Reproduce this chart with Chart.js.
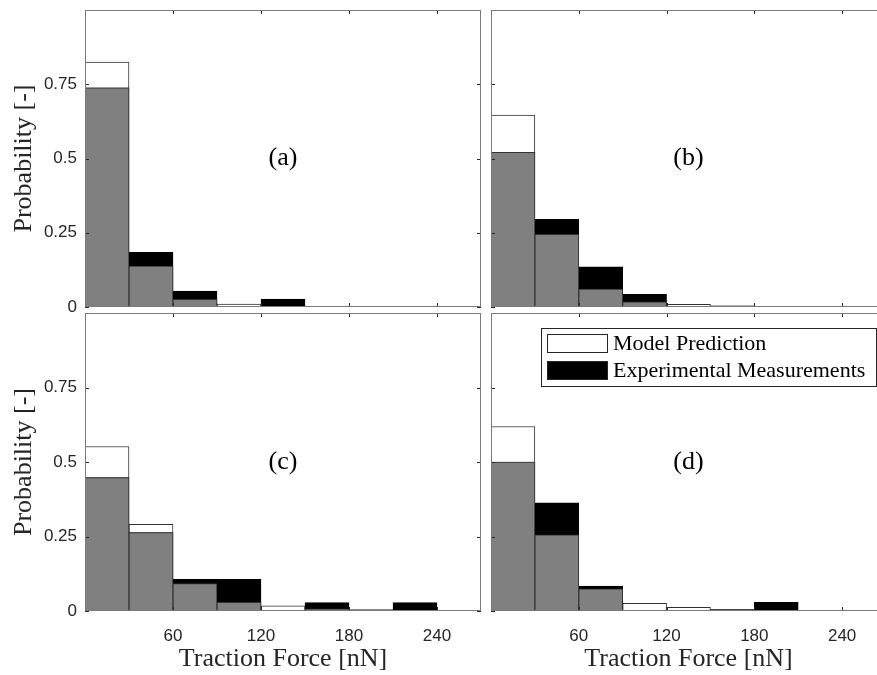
<!DOCTYPE html>
<html>
<head>
<meta charset="utf-8">
<script src="https://cdn.jsdelivr.net/npm/chart.js@4.4.1/dist/chart.umd.min.js"></script>
<style>
  html, body { margin: 0; padding: 0; background: #fff; overflow: hidden; width: 877px; height: 675px; }
  canvas { position: absolute; }
</style>
</head>
<body>
<canvas id="panelA" width="484" height="320" style="left:0;top:0"></canvas>
<canvas id="panelB" width="401" height="320" style="left:488px;top:0"></canvas>
<canvas id="panelC" width="484" height="371" style="left:0;top:304px"></canvas>
<canvas id="panelD" width="401" height="371" style="left:488px;top:304px"></canvas>
<script>
// bin centres of the 30 nN histogram bins
const binCenters = [15, 45, 75, 105, 135, 165, 195, 225, 255];
const forceTicks = [60, 120, 180, 240];
const probabilityTicks = [0, 0.25, 0.5, 0.75];

const modelA    = [0.825, 0.138, 0.026, 0.010, 0, 0, 0, 0, 0];
const measuredA = [0.738, 0.184, 0.054, 0, 0.027, 0, 0, 0, 0];

const modelB    = [0.646, 0.245, 0.060, 0.017, 0.009, 0.004, 0.001, 0, 0];
const measuredB = [0.521, 0.295, 0.135, 0.043, 0, 0.003, 0, 0.002, 0];

const modelC    = [0.552, 0.291, 0.092, 0.029, 0.017, 0.007, 0.005, 0, 0];
const measuredC = [0.448, 0.263, 0.106, 0.106, 0, 0.028, 0, 0.028, 0];

const modelD    = [0.619, 0.256, 0.074, 0.026, 0.012, 0.006, 0, 0.002, 0];
const measuredD = [0.500, 0.363, 0.084, 0, 0, 0.006, 0.029, 0, 0];

const SERIF = "'Liberation Serif', 'Times New Roman', serif";
const SANS = "'Liberation Sans', Arial, sans-serif";

// box around the axes, inward tick marks and the (a)..(d) tag
const panelFrame = {
  id: "panelFrame",
  afterDatasetsDraw(chart, args, opts) {
    const { ctx, chartArea: a, scales: { x, y } } = chart;
    ctx.save();
    ctx.lineWidth = 1;
    ctx.strokeStyle = "#262626";
    ctx.beginPath();
    forceTicks.forEach(v => {
      const px = Math.round(x.getPixelForValue(v)) + 0.5;
      ctx.moveTo(px, a.top); ctx.lineTo(px, a.top + 4);
      ctx.moveTo(px, a.bottom); ctx.lineTo(px, a.bottom - 4);
    });
    probabilityTicks.forEach(v => {
      const py = Math.round(y.getPixelForValue(v)) + 0.5;
      ctx.moveTo(a.left, py); ctx.lineTo(a.left + 4, py);
      ctx.moveTo(a.right, py); ctx.lineTo(a.right - 4, py);
    });
    ctx.stroke();
    ctx.strokeStyle = "#7a7a7a";
    ctx.strokeRect(a.left + 0.5, a.top + 0.5, a.right - a.left - 1, a.bottom - a.top - 1);
    if (opts.text) {
      ctx.font = "26px " + SERIF;
      ctx.fillStyle = "#000";
      ctx.textAlign = "center";
      ctx.textBaseline = "middle";
      ctx.fillText(opts.text, x.getPixelForValue(135), y.getPixelForValue(0.5));
    }
    ctx.restore();
  }
};

// legend with a framed box like the MATLAB one
const boxLegend = {
  id: "boxLegend",
  afterDraw(chart, args, opts) {
    if (!opts.show) return;
    const ctx = chart.ctx;
    const items = chart.data.datasets.filter(d => !d.overlap).sort((p, q) => q.order - p.order);
    const x0 = 53, y0 = 24, w = 335, h = 58;
    ctx.save();
    ctx.fillStyle = "#fff";
    ctx.fillRect(x0, y0, w, h);
    ctx.lineWidth = 1;
    ctx.strokeStyle = "#262626";
    ctx.strokeRect(x0 + 0.5, y0 + 0.5, w, h);
    items.forEach((d, i) => {
      const sy = y0 + 6 + i * 27;
      ctx.fillStyle = d.backgroundColor;
      ctx.fillRect(x0 + 6, sy, 61, 19);
      ctx.strokeStyle = "#262626";
      ctx.strokeRect(x0 + 6.5, sy + 0.5, 60, 18);
      ctx.fillStyle = "#000";
      ctx.font = "22px " + SERIF;
      ctx.textAlign = "left";
      ctx.textBaseline = "middle";
      ctx.fillText(d.label, x0 + 72, sy + 10.5);
    });
    ctx.restore();
  }
};

function toPoints(values) {
  return binCenters.map((x, i) => ({ x: x, y: values[i] }));
}

function renderPanel(canvasId, model, measured, tag, cfg) {
  const overlap = model.map((v, i) => Math.min(v, measured[i]));
  const ctx = document.getElementById(canvasId).getContext("2d");
  return new Chart(ctx, {
    type: "bar",
    data: {
      datasets: [
        {
          label: "Overlap",
          overlap: true,
          data: toPoints(overlap),
          backgroundColor: "#808080",
          borderColor: "#333",
          borderWidth: 1,
          order: 0
        },
        {
          label: "Experimental Measurements",
          data: toPoints(measured),
          backgroundColor: "#000",
          borderColor: "#000",
          borderWidth: 1,
          order: 1
        },
        {
          label: "Model Prediction",
          data: toPoints(model),
          backgroundColor: "#fff",
          borderColor: "#333",
          borderWidth: 1,
          order: 2
        }
      ]
    },
    options: {
      responsive: false,
      animation: false,
      layout: { padding: { top: cfg.padTop, right: 3, bottom: 0, left: 0 } },
      datasets: {
        bar: { grouped: false, barPercentage: 1, categoryPercentage: 1, borderSkipped: "start" }
      },
      scales: {
        x: {
          type: "linear",
          min: 0,
          max: 270,
          offset: false,
          grid: { display: false, drawTicks: false, tickLength: 0 },
          border: { display: false },
          afterBuildTicks: s => { s.ticks = forceTicks.map(v => ({ value: v })); },
          afterFit: s => { s.height = cfg.xHeight; s.paddingLeft = 0; s.paddingRight = 0; },
          ticks: {
            display: cfg.xLabels,
            padding: 15,
            color: "#262626",
            font: { family: SANS, size: 17 },
            maxRotation: 0
          },
          title: {
            display: cfg.xLabels,
            text: "Traction Force [nN]",
            color: "#262626",
            font: { family: SERIF, size: 26 },
            padding: 0
          }
        },
        y: {
          min: 0,
          max: 1,
          grid: { display: false, drawTicks: false, tickLength: 0 },
          border: { display: false },
          afterBuildTicks: s => { s.ticks = probabilityTicks.map(v => ({ value: v })); },
          afterFit: s => { s.width = cfg.yWidth; s.paddingTop = 0; s.paddingBottom = 0; },
          ticks: {
            display: cfg.yLabels,
            padding: 8,
            color: "#262626",
            font: { family: SANS, size: 17 },
            callback: v => String(v)
          },
          title: {
            display: cfg.yLabels,
            text: "Probability [-]",
            color: "#262626",
            font: { family: SERIF, size: 26 },
            padding: { top: 9, bottom: 0 }
          }
        }
      },
      plugins: {
        legend: { display: false },
        tooltip: { enabled: false },
        panelFrame: { text: tag },
        boxLegend: { show: cfg.legend }
      }
    },
    plugins: [panelFrame, boxLegend]
  });
}

renderPanel("panelA", modelA, measuredA, "(a)", { padTop: 10, xHeight: 13, yWidth: 85, xLabels: false, yLabels: true, legend: false });
renderPanel("panelB", modelB, measuredB, "(b)", { padTop: 10, xHeight: 13, yWidth: 3, xLabels: false, yLabels: false, legend: false });
renderPanel("panelC", modelC, measuredC, "(c)", { padTop: 9, xHeight: 64, yWidth: 85, xLabels: true, yLabels: true, legend: false });
renderPanel("panelD", modelD, measuredD, "(d)", { padTop: 9, xHeight: 64, yWidth: 3, xLabels: true, yLabels: false, legend: true });
</script>
</body>
</html>
